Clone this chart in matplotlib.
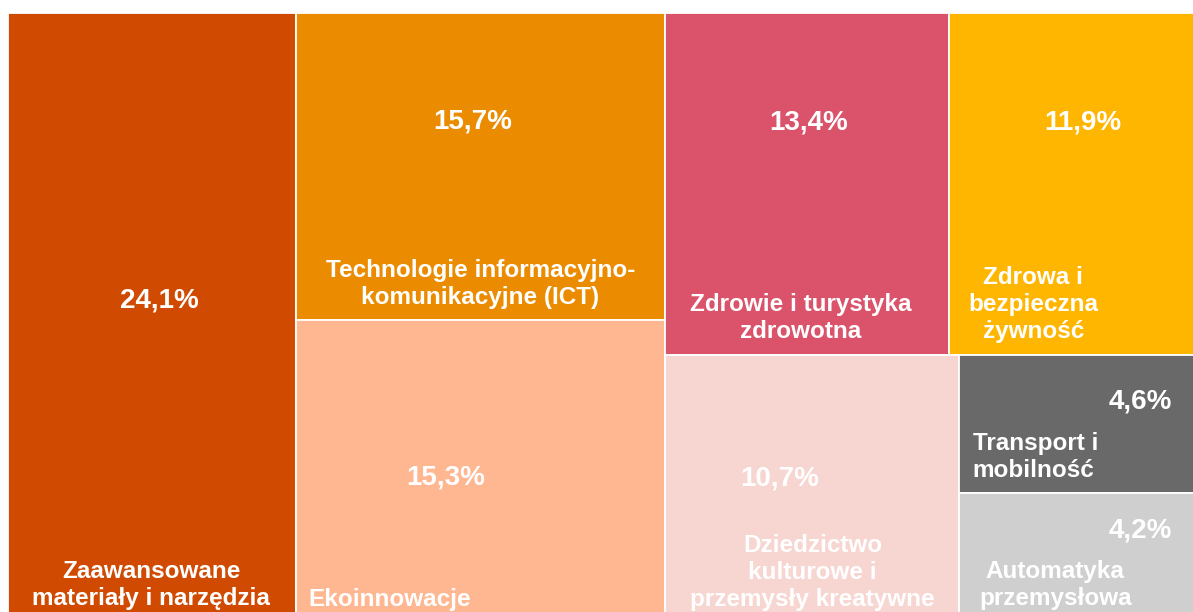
import matplotlib.pyplot as plt
from matplotlib.patches import Rectangle

# udzial obszarow specjalizacji (%)
names = ["Zaawansowane\nmateriały i narzędzia",
         "Technologie informacyjno-\nkomunikacyjne (ICT)",
         "Ekoinnowacje",
         "Zdrowie i turystyka\nzdrowotna",
         "Zdrowa i\nbezpieczna\nżywność",
         "Dziedzictwo\nkulturowe i\nprzemysły kreatywne",
         "Transport i\nmobilność",
         "Automatyka\nprzemysłowa"]
shares = [24.1, 15.7, 15.3, 13.4, 11.9, 10.7, 4.6, 4.2]
colors = ["#D04A02", "#EB8C00", "#FEB791", "#DB536A", "#FFB600",
          "#F7D5D1", "#696969", "#CFCFCF"]

# podzial: kolumny -> wiersze -> kolumny ...
tree = [0, [1, 2], [[3, 4], [5, [6, 7]]]]

# polozenie tekstow wewnatrz prostokata (ulamek szerokosci, wysokosci od gory)
pct_pos = [(0.526, 0.474), (0.478, 0.355), (0.405, 0.528), (0.505, 0.319),
           (0.532, 0.319), (0.389, 0.466), (0.752, 0.333), (0.752, 0.30)]
name_pos = [(0.498, 0.944, "center"), (0.50, 0.883, "center"),
            (0.035, 0.936, "left"), (0.477, 0.892, "center"),
            (0.337, 0.851, "center"), (0.502, 0.822, "center"),
            (0.058, 0.739, "left"), (0.40, 0.73, "center")]


def total(node):
    if isinstance(node, list):
        return sum(total(n) for n in node)
    return shares[node]


def layout(node, x, y, w, h, horiz, out):
    if not isinstance(node, list):
        out[node] = (x, y, w, h)
        return
    s = total(node)
    for child in node:
        f = total(child) / s
        if horiz:
            layout(child, x, y, w * f, h, not horiz, out)
            x += w * f
        else:
            layout(child, x, y, w, h * f, not horiz, out)
            y += h * f


rects = {}
layout(tree, 0, 0, 1, 1, True, rects)

plt.rcParams['font.family'] = ['Liberation Sans', 'DejaVu Sans']
fig = plt.figure(figsize=(11.93, 6.12), dpi=100)
ax = fig.add_axes([8 / 1193, -7 / 612, 1192 / 1193, 606 / 612])
ax.set_xlim(0, 1)
ax.set_ylim(1, 0)
ax.axis('off')

for i in range(len(shares)):
    x, y, w, h = rects[i]
    ax.add_patch(Rectangle((x, y), w, h, facecolor=colors[i],
                           edgecolor="white", lw=1.3))
    px, py = pct_pos[i]
    ax.text(x + px * w, y + py * h, f"{shares[i]:.1f}%".replace(".", ","),
            color="white", fontsize=20, fontweight="bold",
            ha="center", va="center")
    nx, ny, ha = name_pos[i]
    ax.text(x + nx * w, y + ny * h, names[i], color="white", fontsize=17.5,
            fontweight="bold", ha=ha, va="center", multialignment=ha,
            linespacing=1.22)

fig.savefig("out.png", dpi=100)
